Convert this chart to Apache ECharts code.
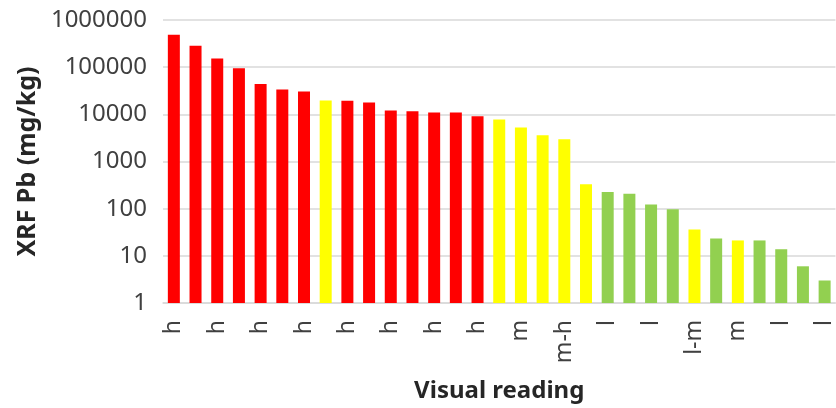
<!DOCTYPE html>
<html>
<head>
<meta charset="utf-8">
<script src="https://cdn.jsdelivr.net/npm/echarts@6/dist/echarts.min.js"></script>
<style>
  html, body { margin: 0; padding: 0; background: #fff; }
  #chart { width: 836px; height: 408px; }
</style>
</head>
<body>
<div id="chart"></div>
<script>
// visual reading per sample (only every other one is labelled on the axis)
const readings = ['h', 'h', 'h', 'h', 'h', 'h', 'h', 'm', 'h', 'h', 'h', 'h', 'h', 'h', 'h', 'm',
  'm', 'm', 'm-h', 'm', 'l', 'l', 'l', 'l', 'l-m', 'l', 'm', 'l', 'l', 'l', 'l']
// XRF Pb, mg/kg
const pbValues = [484000, 285000, 152000, 95000, 44000, 33500, 30500, 19700, 19500, 17900, 12100, 11600,
  11000, 11000, 9100, 7800, 5250, 3600, 2950, 330, 225, 208, 123, 97, 36, 23.3, 21.2, 21.2, 13.8, 6, 3]
// bar class (colour group) per sample
const barClass = ['high', 'high', 'high', 'high', 'high', 'high', 'high', 'mid', 'high', 'high', 'high', 'high',
  'high', 'high', 'high', 'mid', 'mid', 'mid', 'mid', 'mid', 'low', 'low', 'low', 'low', 'mid', 'low',
  'mid', 'low', 'low', 'low', 'low']

const classColors = { high: '#ff0000', mid: '#ffff00', low: '#92d050' }
const font = '"Noto Sans", sans-serif'

const chart = echarts.init(document.getElementById('chart'))
const option = {
  animation: false,
  grid: {
    left: 163,
    top: 20,
    width: 680,
    bottom: 102
  },
  xAxis: {
    type: 'category',
    data: readings,
    name: 'Visual reading',
    nameLocation: 'middle',
    nameGap: 76,
    nameTextStyle: { fontFamily: font, fontSize: 24, fontWeight: 'bold', color: '#262626' },
    axisTick: { show: false },
    axisLine: { lineStyle: { color: '#d9d9d9', width: 1.5 } },
    axisLabel: {
      interval: 1,
      rotate: 90,
      margin: 17,
      fontFamily: font,
      fontSize: 23,
      color: '#404040'
    }
  },
  yAxis: {
    type: 'log',
    logBase: 10,
    min: 1,
    max: 1000000,
    name: 'XRF Pb (mg/kg)',
    nameLocation: 'middle',
    nameGap: 122,
    nameTextStyle: { fontFamily: font, fontSize: 25, fontWeight: 'bold', color: '#262626' },
    axisLine: { show: false },
    axisTick: { show: false },
    splitLine: { lineStyle: { color: '#d9d9d9', width: 1.5 } },
    axisLabel: {
      margin: 16,
      fontFamily: font,
      fontSize: 24,
      color: '#404040',
      formatter: (v) => String(Math.round(v))
    }
  },
  series: [
    {
      type: 'bar',
      barWidth: 12,
      data: pbValues.map((v, i) => ({
        value: v,
        itemStyle: { color: classColors[barClass[i]] }
      }))
    }
  ]
}
chart.setOption(option)
</script>
</body>
</html>
